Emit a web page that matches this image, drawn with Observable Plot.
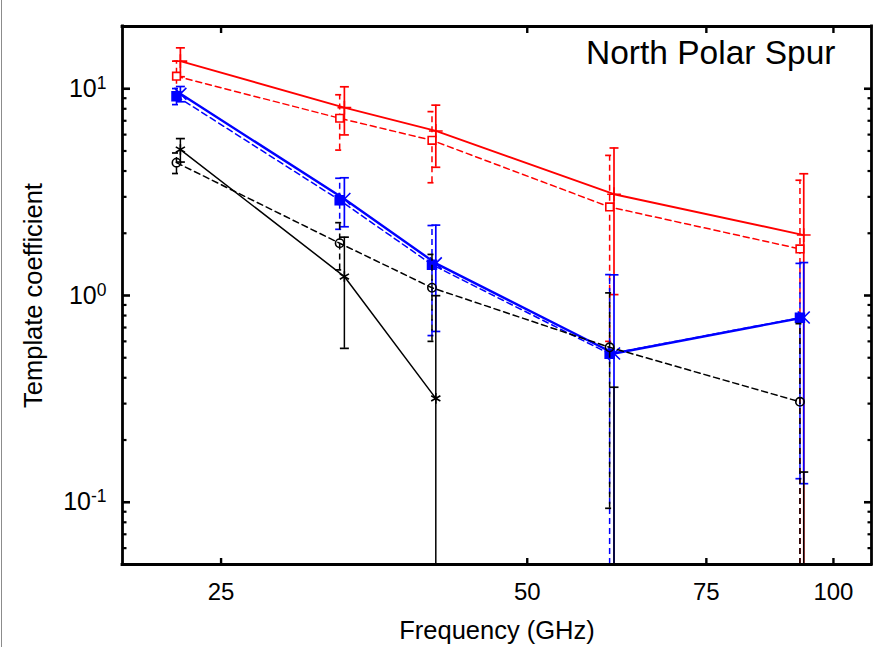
<!DOCTYPE html>
<html><head><meta charset="utf-8">
<script src="https://cdn.jsdelivr.net/npm/d3@7"></script>
<script src="https://cdn.jsdelivr.net/npm/@observablehq/plot@0.6"></script>
<style>
body{margin:0;background:#fff;}
#chart{position:relative;width:875px;height:647px;overflow:hidden;}
#chart::before{content:"";position:absolute;left:1px;top:0;bottom:0;width:1px;background:#8c8c8c;}
</style></head><body><div id="chart"></div>
<script>
// Frequencies (GHz): solid series sit slightly right, dashed slightly left
const freqSolid  = [22.8, 33.05, 40.65, 60.85, 93.5];
const freqDashed = [22.6, 32.7, 40.3, 60.25, 92.7];

const redSolid      = [13.6, 8.1, 6.25, 3.09, 1.96];
const redSolidErr   = [2.17, 2.12, 2.08, 2.08, 1.92];
const redDashed     = [11.5, 7.2, 5.63, 2.68, 1.68];
const redDashedErr  = [2.1, 2.15, 2.12, 2.08, 1.93];
const blueSolid     = [9.45, 2.93, 1.43, 0.524, 0.783];
const blueSolidErr  = [0.8, 0.78, 0.76, 0.735, 0.66];
const blueDashed    = [9.2, 2.89, 1.41, 0.522, 0.78];
const blueDashedErr = [0.82, 0.8, 0.77, 0.74, 0.65];
const blackSolid    = [5.08, 1.235, 0.318, -0.30, -0.52];
const blackSolidErr = [0.66, 0.68, 0.68, 0.66, 0.66];
const blackDashed   = [4.39, 1.79, 1.09, 0.5615, 0.306];
const blackDashedErr= [0.5, 0.46, 0.49, 0.468, 0.425];

const xTicks = [25, 50, 75, 100];
const yTicks = [0.1, 1, 10];
const yTickExponents = ["-1", "0", "1"];
const yMinorTicks = [0.06,0.07,0.08,0.09,0.2,0.3,0.4,0.5,0.6,0.7,0.8,0.9,2,3,4,5,6,7,8,9];

const titleText = "North Polar Spur";
const xLabel = "Frequency (GHz)";
const yLabel = "Template coefficient";

const xDomain = [20, 109];
const yDomain = [0.05, 20];

const series = [
  {freq: freqSolid,  value: redSolid,    err: redSolidErr,    color: "#ff0000", dash: null,  width: 1.9, symbol: "plus",    fill: "none",    r: 4.5},
  {freq: freqDashed, value: redDashed,   err: redDashedErr,   color: "#ff0000", dash: "6,4", width: 1.5, symbol: "square",  fill: "white",   r: 4.3},
  {freq: freqSolid,  value: blueSolid,   err: blueSolidErr,   color: "#0000ff", dash: null,  width: 2.4, symbol: "times",   fill: "none",    r: 5.5},
  {freq: freqDashed, value: blueDashed,  err: blueDashedErr,  color: "#0000ff", dash: "6,4", width: 1.5, symbol: "square",  fill: "#0000ff", r: 5},
  {freq: freqSolid,  value: blackSolid,  err: blackSolidErr,  color: "#000000", dash: null,  width: 1.5, symbol: "asterisk",fill: "none",    r: 5},
  {freq: freqDashed, value: blackDashed, err: blackDashedErr, color: "#000000", dash: "6,4", width: 1.5, symbol: "circle",  fill: "none",    r: 4.2}
];

const cap = {draw(ctx, size) { const r = Math.sqrt(size / Math.PI); ctx.moveTo(-r, 0); ctx.lineTo(r, 0); }};
const tickShape = (dx, dy) => ({draw(ctx, size) { const r = Math.sqrt(size / Math.PI); ctx.moveTo(0, 0); ctx.lineTo(dx * r, dy * r); }});
const tickUp = tickShape(0, -1), tickDown = tickShape(0, 1), tickRight = tickShape(1, 0), tickLeft = tickShape(-1, 0);

const marks = [];
for (const s of series) {
  const rows = s.freq.map((f, i) => ({f, v: s.value[i], e: s.err[i]}));
  const style = {stroke: s.color, strokeWidth: s.width, strokeDasharray: s.dash};
  marks.push(Plot.ruleX(rows, {x: "f", y1: d => Math.max(d.v - d.e, yDomain[0]), y2: d => d.v + d.e, ...style, strokeWidth: Math.min(s.width, 1.7)}));
  marks.push(Plot.dot(rows, {x: "f", y: d => d.v + d.e, symbol: cap, r: 4.5, fill: "none", ...style, strokeWidth: 1.7}));
  marks.push(Plot.dot(rows.filter(d => d.v - d.e > yDomain[0]), {x: "f", y: d => d.v - d.e, symbol: cap, r: 4.5, fill: "none", ...style, strokeWidth: 1.7}));
  marks.push(Plot.line(rows, {x: "f", y: "v", ...style}));
  marks.push(Plot.dot(rows.filter(d => d.v > 0), {x: "f", y: "v", symbol: s.symbol, r: s.r, fill: s.fill, stroke: s.color, strokeWidth: 1.6}));
}

const tickStyle = {fill: "none", stroke: "black"};
const plot = Plot.plot({
  width: 875,
  height: 647,
  marginLeft: 122,
  marginRight: 4,
  marginTop: 26,
  marginBottom: 83,
  style: {fontFamily: "'Liberation Sans', Arial, Helvetica, sans-serif", background: "white", color: "black"},
  x: {type: "log", domain: xDomain},
  y: {type: "log", domain: yDomain},
  marks: [
    ...marks,
    // inward ticks drawn at the frame edges
    Plot.dot(xTicks, {x: d => d, y: () => yDomain[0], symbol: tickUp, r: 6.5, strokeWidth: 2.4, ...tickStyle}),
    Plot.dot(xTicks, {x: d => d, y: () => yDomain[1], symbol: tickDown, r: 6.5, strokeWidth: 2.4, ...tickStyle}),
    Plot.dot(yTicks, {y: d => d, x: () => xDomain[0], symbol: tickRight, r: 7.5, strokeWidth: 2.6, ...tickStyle}),
    Plot.dot(yTicks, {y: d => d, x: () => xDomain[1], symbol: tickLeft, r: 7.5, strokeWidth: 2.6, ...tickStyle}),
    Plot.dot(yMinorTicks, {y: d => d, x: () => xDomain[0], symbol: tickRight, r: 4, strokeWidth: 2.2, ...tickStyle}),
    Plot.dot(yMinorTicks, {y: d => d, x: () => xDomain[1], symbol: tickLeft, r: 4, strokeWidth: 2.2, ...tickStyle}),
    // tick labels
    Plot.axisX(xTicks, {anchor: "bottom", tickSize: 0, tickPadding: 18, fontSize: 24, tickFormat: d => String(d), label: null}),
    Plot.axisY(yTicks, {anchor: "left", tickSize: 0, tickPadding: 16, fontSize: 25, tickFormat: d => "10^" + yTickExponents[yTicks.indexOf(d)], label: null}),
    // frame
    Plot.ruleY(yDomain, {stroke: "black", strokeWidth: 2.8, strokeLinecap: "square"}),
    Plot.ruleX(xDomain, {stroke: "black", strokeWidth: 2.8, strokeLinecap: "square"}),
    Plot.text([titleText], {frameAnchor: "top-right", textAnchor: "end", lineAnchor: "middle", dx: -36, dy: 27, fontSize: 33.5}),
    Plot.text([xLabel], {frameAnchor: "bottom", textAnchor: "middle", lineAnchor: "middle", dy: 66, fontSize: 25.5}),
    Plot.text([yLabel], {frameAnchor: "left", textAnchor: "middle", lineAnchor: "middle", rotate: -90, dx: -89, fontSize: 25.5})
  ]
});

// render superscript exponents on y tick labels
d3.select(plot).selectAll('[aria-label="y-axis tick label"] text').each(function() {
  const t = this.textContent;
  const m = /^10\^(.+)$/.exec(t);
  if (!m) return;
  const sel = d3.select(this);
  sel.text("10");
  sel.append("tspan").attr("dy", "-0.45em").attr("font-size", "70%").text(m[1]);
});

document.getElementById("chart").appendChild(plot);
</script>
</body></html>
